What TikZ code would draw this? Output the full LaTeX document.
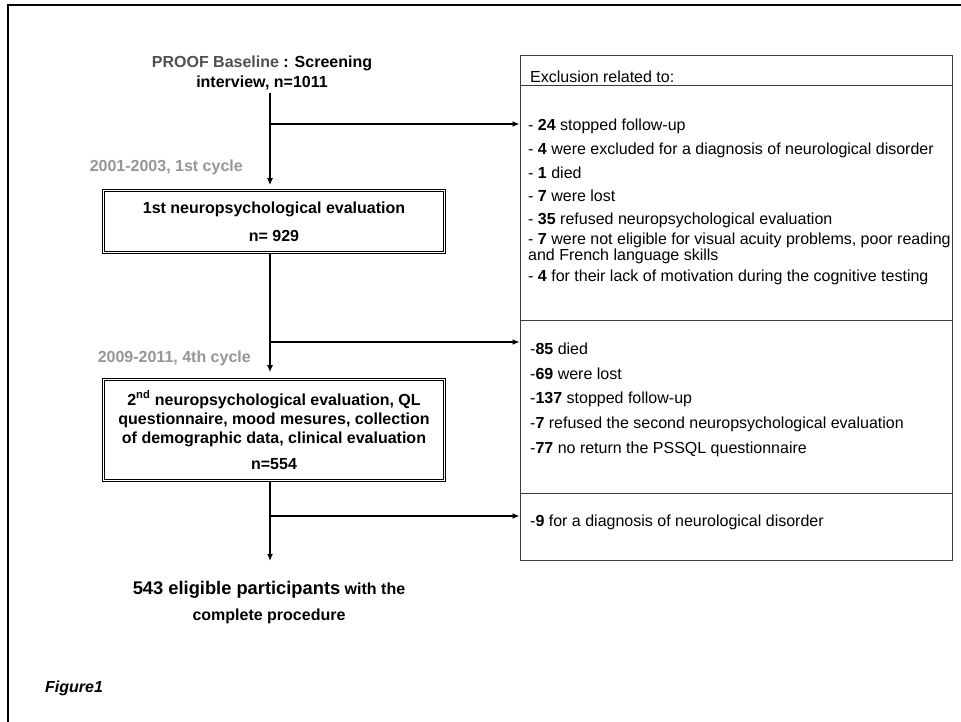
\documentclass[tikz,border=0pt]{standalone}
\usepackage{fontspec}
\setmainfont{Liberation Sans}
\usepackage{tikz}
\usetikzlibrary{arrows.meta}

\definecolor{cyclegray}{RGB}{150,150,150}
\definecolor{proofgray}{RGB}{80,80,80}
\definecolor{boxgray}{RGB}{60,60,60}

\tikzset{
	txt/.style={font=\fontsize{16}{19}\selectfont, inner sep=0pt},
	item/.style={txt, anchor=west},
	cyc/.style={txt, font=\fontsize{16}{19}\selectfont\bfseries, text=cyclegray, anchor=east},
	stagebox/.style={draw, double, double distance=1.8pt, line width=0.7pt, minimum width=341pt, align=center, font=\fontsize{16}{19}\selectfont\bfseries},
	exbox/.style={draw=boxgray, line width=0.9pt, minimum width=432pt, inner sep=0pt},
	flow/.style={line width=1.5pt, -{Latex[length=7pt,width=6pt]}}
}

\begin{document}
\begin{tikzpicture}[x=1pt,y=-1pt]
	\useasboundingbox (0,0) rectangle (961,722);
	\draw[line width=2pt] (8,722) -- (8,5) -- (961,5);

	% left column
	\node[txt, align=center, font=\fontsize{16}{20}\selectfont\bfseries] (proof) at (262,73)
		{{\color{proofgray}PROOF Baseline} : Screening\\interview, n=1011};
	\node[cyc] (cycle1) at (243,167) {2001-2003, 1st cycle};
	\node[stagebox, minimum height=62pt] (box1) at (274,221.5)
		{1st neuropsychological evaluation\\[9pt]n= 929};
	\node[cyc] (cycle4) at (251,358) {2009-2011, 4th cycle};
	\node[stagebox, minimum height=101pt] (box2) at (274,430)
		{2\textsuperscript{nd} neuropsychological evaluation, QL\\questionnaire, mood mesures, collection\\of demographic data, clinical evaluation\\[7pt]n=554};
	\node[txt, align=center, font=\fontsize{16}{26}\selectfont\bfseries] (final) at (269,603)
		{{\fontsize{18.3}{26}\selectfont 543 eligible participants} with the\\complete procedure};
	\node[item, font=\fontsize{16}{19}\selectfont\bfseries\itshape] (figlabel) at (45,688) {Figure1};

	% exclusion box
	\node[exbox, minimum height=30pt] (head) at (736,70) {};
	\node[exbox, minimum height=235pt] (sec1) at (736,202.5) {};
	\node[exbox, minimum height=173pt] (sec2) at (736,406.5) {};
	\node[exbox, minimum height=67pt] (sec3) at (736,526.5) {};
	\node[item] (headtxt) at (530,77) {Exclusion related to:};

	\node[item] (early1) at (528,126) {- \textbf{24} stopped follow-up};
	\node[item] (early2) at (528,150) {- \textbf{4} were excluded for a diagnosis of neurological disorder};
	\node[item] (early3) at (528,173) {- \textbf{1} died};
	\node[item] (early4) at (528,196) {- \textbf{7} were lost};
	\node[item] (early5) at (528,220) {- \textbf{35} refused neuropsychological evaluation};
	\node[item, align=left, font=\fontsize{16}{13}\selectfont] (early6) at (528,248)
		{- \textbf{7} were not eligible for visual acuity problems, poor reading\\and French language skills};
	\node[item] (early7) at (528,277) {- \textbf{4} for their lack of motivation during the cognitive testing};

	\foreach \n/\t [count=\i from 0] in {85/died, 69/were lost, 137/stopped follow-up,
		7/refused the second neuropsychological evaluation, 77/no return the PSSQL questionnaire}
		\node[item] (late\i) at (530,349+25*\i) {-\textbf{\n} \t};
	\node[item] (neuro) at (530,522) {-\textbf{9} for a diagnosis of neurological disorder};

	% flow
	\coordinate (s0) at (270,93);
	\coordinate (b1) at (270,124);
	\coordinate (b2) at (270,342);
	\coordinate (b3) at (270,516);
	\coordinate (s3) at (270,561);
	\draw[flow] (s0) -- (s0 |- box1.north) [shorten >=5pt];
	\draw[flow] (b1) -- (b1 -| sec1.west);
	\draw[flow] (s0 |- box1.south) -- (s0 |- box2.north) [shorten >=7pt];
	\draw[flow] (b2) -- (b2 -| sec2.west);
	\draw[flow] (s0 |- box2.south) -- (s3);
	\draw[flow] (b3) -- (b3 -| sec3.west);
\end{tikzpicture}
\end{document}
